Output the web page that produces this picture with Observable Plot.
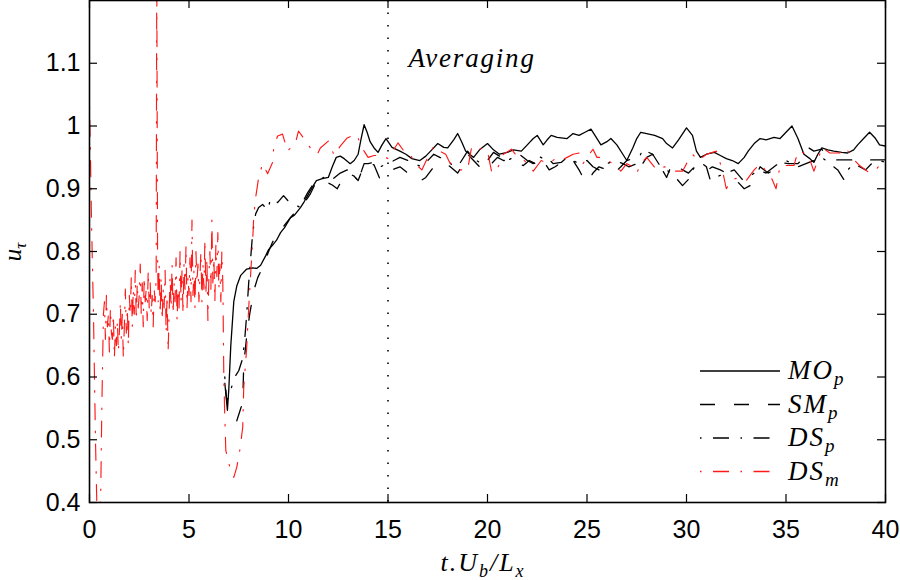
<!DOCTYPE html>
<html>
<head>
<meta charset="utf-8">
<script src="https://cdn.jsdelivr.net/npm/d3@7"></script>
<script src="https://cdn.jsdelivr.net/npm/@observablehq/plot@0.6"></script>
<style>
  html, body { margin: 0; padding: 0; background: #fff; }
  #chart svg { display: block; }
</style>
</head>
<body>
<div id="chart"></div>
<script>
// ---- tick values ----
const xTicks = [0, 5, 10, 15, 20, 25, 30, 35, 40];
const yTicks = [0.4, 0.5, 0.6, 0.7, 0.8, 0.9, 1.0, 1.1];
const averagingStart = 15;

// ---- series: [t.U_b/L_x, u_tau] ----
const MOp = [
  [6.8,0.59],[6.93,0.547],[7.0,0.58],[7.1,0.65],[7.25,0.72],[7.4,0.745],[7.6,0.762],[7.9,0.772],
  [8.2,0.774],[8.4,0.773],[8.6,0.778],[8.85,0.793],[9.0,0.803],[9.25,0.812],[9.4,0.818],[9.6,0.83],
  [9.8,0.838],[10.1,0.854],[10.3,0.858],[10.6,0.87],[10.8,0.88],[11.1,0.897],[11.4,0.913],[11.7,0.916],
  [12.0,0.918],[12.2,0.935],[12.4,0.95],[12.6,0.952],[12.8,0.948],[13.1,0.94],[13.3,0.945],[13.5,0.955],
  [13.65,0.98],[13.8,1.002],[13.95,0.99],[14.1,0.975],[14.3,0.965],[14.5,0.958],[14.7,0.97],[14.9,0.98],
  [15.2,0.966],[15.6,0.96],[15.9,0.955],[16.2,0.948],[16.6,0.945],[16.9,0.952],[17.2,0.962],[17.5,0.972],
  [17.8,0.966],[18.0,0.965],[18.3,0.978],[18.5,0.988],[18.7,0.975],[18.9,0.96],[19.1,0.955],[19.3,0.95],
  [19.6,0.962],[20.0,0.972],[20.3,0.962],[20.6,0.955],[21.0,0.958],[21.3,0.962],[21.7,0.96],[22.0,0.97],
  [22.3,0.98],[22.5,0.985],[22.8,0.97],[23.0,0.978],[23.2,0.985],[23.5,0.982],[24.0,0.98],[24.3,0.988],
  [24.6,0.985],[24.9,0.99],[25.2,0.995],[25.4,0.985],[25.7,0.97],[26.0,0.975],[26.2,0.98],[26.5,0.97],
  [26.8,0.955],[27.0,0.945],[27.3,0.965],[27.5,0.98],[27.7,0.99],[28.0,0.988],[28.4,0.985],[28.8,0.98],
  [29.0,0.972],[29.3,0.965],[29.6,0.978],[30.0,0.997],[30.3,0.985],[30.5,0.96],[30.7,0.95],[31.0,0.955],
  [31.4,0.958],[31.7,0.953],[32.0,0.948],[32.3,0.945],[32.6,0.94],[32.9,0.95],[33.1,0.96],[33.4,0.972],
  [33.7,0.98],[34.0,0.978],[34.4,0.982],[34.7,0.98],[35.0,0.99],[35.3,1.0],[35.6,0.98],[35.9,0.955],
  [36.2,0.948],[36.4,0.942],[36.6,0.955],[36.8,0.965],[37.1,0.962],[37.4,0.96],[37.8,0.958],[38.1,0.957],
  [38.4,0.962],[38.6,0.97],[38.9,0.98],[39.2,0.99],[39.5,0.98],[39.7,0.97],[40,0.968]
];

const SMp = [
  [7.4,0.53],[7.55,0.545],[7.7,0.56],[7.75,0.62],[7.9,0.665],[8.05,0.7],[8.25,0.737],[8.45,0.758],
  [8.7,0.775],[9.0,0.8],[9.2,0.815],[9.45,0.83],[9.7,0.838],[10.0,0.85],[10.2,0.858],[10.45,0.866],
  [10.7,0.878],[10.95,0.893],[11.25,0.908],[11.6,0.912],[11.95,0.91],[12.2,0.906],[12.45,0.9],[12.7,0.915],
  [13.0,0.925],[13.3,0.92],[13.5,0.913],[13.8,0.938],[14.1,0.94],[14.3,0.938],[14.6,0.915],[14.9,0.92],
  [15.2,0.93],[15.6,0.935],[16.0,0.925],[16.3,0.918],[16.6,0.912],[16.9,0.918],[17.3,0.935],[17.7,0.94],
  [18.1,0.936],[18.5,0.925],[18.8,0.94],[19.0,0.955],[19.3,0.945],[19.6,0.935],[19.9,0.928],[20.2,0.94],
  [20.5,0.95],[20.8,0.945],[21.2,0.945],[21.5,0.94],[21.8,0.937],[22.1,0.945],[22.4,0.94],[22.7,0.95],
  [23.1,0.93],[23.4,0.935],[23.7,0.942],[24.0,0.948],[24.3,0.945],[24.6,0.93],[24.8,0.918],[25.0,0.91],
  [25.3,0.925],[25.6,0.935],[26.0,0.93],[26.3,0.923],[26.7,0.935],[27.0,0.945],[27.3,0.948],[27.7,0.935],
  [28.0,0.95],[28.3,0.955],[28.7,0.935],[29.0,0.918],[29.3,0.942],[29.8,0.93],[30.1,0.925],[30.4,0.935],
  [30.7,0.93],[31.0,0.928],[31.3,0.935],[31.7,0.93],[32.0,0.925],[32.3,0.915],[32.6,0.91],[32.9,0.9],
  [33.2,0.905],[33.5,0.92],[33.7,0.935],[34.1,0.925],[34.4,0.93],[34.7,0.942],[35.1,0.94],[35.6,0.94],
  [35.9,0.95],[36.1,0.966],[36.4,0.96],[36.8,0.963],[37.1,0.948],[37.3,0.946],[38.0,0.946],[39.0,0.946],
  [40,0.946]
];

const DSp = [
  [6.8,0.6],[6.9,0.56],[7.0,0.573],[7.1,0.58],[7.3,0.6],[7.5,0.61],[7.7,0.63],[7.8,0.66],[7.9,0.7],
  [8.0,0.75],[8.1,0.79],[8.2,0.83],[8.35,0.86],[8.5,0.87],[8.7,0.875],[8.95,0.866],[9.1,0.884],[9.3,0.882],
  [9.45,0.878],[9.75,0.889],[10.0,0.88],[10.25,0.876],[10.6,0.87],[10.85,0.88],[11.1,0.892],[11.35,0.908],
  [11.6,0.916],[11.95,0.92],[12.2,0.915],[12.6,0.925],[12.95,0.93],[13.3,0.92],[13.5,0.913],[13.8,0.94],
  [14.0,0.94],[14.3,0.942],[14.6,0.935],[15.0,0.94],[15.3,0.945],[15.6,0.95],[16.0,0.945],[16.3,0.94],
  [16.7,0.935],[17.0,0.945],[17.3,0.955],[17.6,0.95],[18.0,0.945],[18.3,0.935],[18.6,0.94],[19.0,0.96],
  [19.3,0.948],[19.7,0.94],[20.0,0.945],[20.3,0.958],[20.6,0.952],[21.0,0.945],[21.3,0.95],[21.6,0.955],
  [22.0,0.945],[22.3,0.94],[22.5,0.953],[22.8,0.948],[23.0,0.95],[23.3,0.94],[23.7,0.942],[24.0,0.95],
  [24.3,0.945],[24.6,0.94],[25.0,0.945],[25.3,0.935],[25.6,0.93],[26.0,0.94],[26.4,0.945],[26.8,0.94],
  [27.1,0.935],[27.5,0.94],[27.8,0.963],[28.1,0.958],[28.3,0.955],[28.7,0.935],[29.0,0.93],[29.4,0.92],
  [29.8,0.905],[30.1,0.915],[30.4,0.935],[30.8,0.94],[31.0,0.935],[31.2,0.913],[31.6,0.92],[32.0,0.925],
  [32.4,0.93],[32.8,0.915],[33.2,0.92],[33.6,0.93],[34.0,0.925],[34.4,0.935],[34.7,0.942],[35.0,0.945],
  [35.3,0.94],[35.6,0.935],[36.0,0.94],[36.4,0.945],[36.8,0.95],[37.2,0.94],[37.6,0.93],[37.9,0.915],
  [38.1,0.93],[38.4,0.94],[38.7,0.935],[39.0,0.93],[39.3,0.94],[39.7,0.945],[40,0.942]
];

const DSm = [
  [0,1.03],[0.05,0.95],[0.1,0.85],[0.2,0.7],[0.3,0.5],[0.38,0.38],[0.45,0.37],[0.55,0.38],[0.62,0.55],[0.7,0.7],
  [0.75,0.72],[0.80,0.66],[0.85,0.73],[0.90,0.68],[0.95,0.70],[1.00,0.64],[1.05,0.71],[1.10,0.67],
  [1.15,0.66],[1.20,0.70],[1.25,0.63],[1.30,0.68],[1.35,0.65],[1.40,0.69],[1.45,0.64],[1.50,0.67],
  [1.55,0.72],[1.60,0.66],[1.65,0.70],[1.70,0.63],[1.75,0.68],[1.80,0.74],[1.85,0.67],[1.90,0.71],[1.95,0.65],[2.00,0.73],
  [2.05,0.70],[2.10,0.76],[2.15,0.68],[2.20,0.74],[2.25,0.70],[2.30,0.77],[2.35,0.69],[2.40,0.75],[2.45,0.71],[2.50,0.73],
  [2.55,0.78],[2.60,0.70],[2.65,0.75],[2.70,0.68],[2.75,0.76],[2.80,0.72],[2.85,0.74],[2.90,0.69],[2.95,0.77],[3.00,0.71],
  [3.05,0.75],[3.10,0.70],[3.15,0.73],[3.20,0.68],[3.25,0.74],[3.30,0.72],
  [3.35,0.76],[3.38,1.25],[3.42,0.80],[3.45,0.72],
  [3.50,0.78],[3.55,0.70],[3.60,0.76],[3.65,0.69],[3.70,0.74],[3.75,0.71],[3.80,0.77],[3.85,0.67],[3.90,0.73],[3.95,0.64],[4.00,0.70],
  [4.05,0.76],[4.10,0.71],[4.15,0.78],[4.20,0.70],[4.25,0.75],[4.30,0.72],[4.35,0.79],[4.40,0.69],[4.45,0.74],[4.50,0.71],
  [4.55,0.80],[4.60,0.72],[4.65,0.77],[4.70,0.70],[4.75,0.78],[4.80,0.74],[4.85,0.81],[4.90,0.71],[4.95,0.76],[5.00,0.73],
  [5.05,0.79],[5.10,0.72],[5.15,0.85],[5.20,0.73],[5.25,0.77],[5.30,0.71],[5.35,0.80],[5.40,0.75],[5.45,0.78],[5.50,0.72],
  [5.55,0.76],[5.60,0.80],[5.65,0.72],[5.70,0.78],[5.75,0.74],[5.80,0.82],[5.85,0.73],[5.90,0.79],[5.95,0.69],[6.00,0.76],
  [6.05,0.80],[6.10,0.74],[6.15,0.85],[6.20,0.75],[6.25,0.79],[6.30,0.72],[6.35,0.81],[6.40,0.76],[6.45,0.83],[6.50,0.74],
  [6.55,0.78],[6.60,0.72],[6.65,0.80],[6.70,0.75],
  [6.75,0.6],[6.8,0.535],[6.85,0.483],[7.0,0.462],[7.25,0.44],[7.4,0.456],[7.55,0.483],[7.7,0.52],[7.75,0.583],
  [7.9,0.647],[8.0,0.71],[8.1,0.765],[8.2,0.817],[8.25,0.854],[8.35,0.886],[8.5,0.918],[8.7,0.94],[8.95,0.924],
  [9.2,0.942],[9.25,0.963],[9.45,0.984],[9.7,0.987],[9.95,0.96],[10.35,0.973],[10.5,0.992],[10.75,0.981],
  [11.1,0.965],[11.45,0.955],[11.6,0.965],[12.0,0.976],[12.3,0.953],[12.6,0.968],[12.95,0.981],[13.4,0.987],
  [13.8,0.96],[14.0,0.95],[14.3,0.953],[14.7,0.953],[15.0,0.948],[15.5,0.973],[15.8,0.96],[16.1,0.957],
  [16.3,0.942],[16.7,0.93],[17.0,0.95],[17.3,0.968],[17.6,0.96],[17.9,0.955],[18.1,0.942],[18.5,0.93],
  [19.0,0.93],[19.2,0.966],[19.5,0.96],[19.7,0.965],[20.0,0.96],[20.2,0.928],[20.4,0.925],[20.8,0.955],
  [21.2,0.963],[21.4,0.955],[21.7,0.95],[22.0,0.94],[22.3,0.928],[22.7,0.945],[23.1,0.94],[23.4,0.948],
  [23.7,0.945],[24.0,0.95],[24.3,0.955],[24.6,0.957],[24.8,0.94],[25.0,0.95],[25.3,0.963],[25.5,0.95],
  [25.8,0.95],[26.2,0.942],[26.5,0.935],[26.7,0.928],[27.0,0.94],[27.3,0.935],[27.5,0.925],[27.7,0.94],
  [28.0,0.95],[28.2,0.942],[28.5,0.93],[28.9,0.935],[29.3,0.928],[29.8,0.928],[30.0,0.94],[30.3,0.955],
  [30.6,0.945],[31.0,0.955],[31.5,0.96],[31.8,0.93],[32.0,0.9],[32.3,0.915],[32.7,0.918],[33.0,0.913],
  [33.4,0.93],[33.7,0.94],[34.0,0.928],[34.3,0.915],[34.5,0.9],[34.7,0.937],[35.0,0.937],[35.4,0.937],
  [35.6,0.96],[36.1,0.955],[36.4,0.928],[36.6,0.945],[36.8,0.966],[37.2,0.957],[37.7,0.957],[38.0,0.966],
  [38.3,0.95],[38.7,0.937],[39.0,0.93],[39.2,0.925],[39.5,0.93],[39.7,0.937],[40,0.945]
];

const seriesNames = ["MO", "SM", "DS", "DS"];
const seriesSubs = ["p", "p", "p", "m"];
const seriesColors = ["#000000", "#000000", "#000000", "#ff1a1a"];
const seriesDash = ["none", "15,19", "1.5,11.5,16,11.5", "1.5,11.5,16,11.5"];
const seriesData = [MOp, SMp, DSp, DSm];

// ---- chart ----
const W = 900, H = 580;
const mL = 89, mR = 15, mT = 0, mB = 78;
const frameW = W - mL - mR, frameH = H - mT - mB;
const tick = 8;

const lineMarks = seriesData.map((data, i) =>
  Plot.line(data, {
    x: d => d[0], y: d => d[1],
    stroke: seriesColors[i],
    strokeWidth: i === 3 ? 1.15 : 1.3,
    strokeDasharray: seriesDash[i] === "none" ? undefined : seriesDash[i],
    clip: true
  })
);

const chart = Plot.plot({
  width: W, height: H,
  marginLeft: mL, marginRight: mR, marginTop: mT, marginBottom: mB,
  x: {domain: [0, 40]},
  y: {domain: [0.4, 1.2]},
  style: {background: "#fff", fontFamily: "'Liberation Sans', Arial, sans-serif", fontSize: "25px", color: "#000"},
  marks: [
    Plot.ruleX([averagingStart], {stroke: "#000", strokeWidth: 1.6, strokeDasharray: "1.5,11"}),
    ...lineMarks,
    // inward ticks on all four sides
    Plot.ruleX(xTicks, {x: d => d, insetTop: frameH - tick, stroke: "#000", strokeWidth: 1.2}),
    Plot.ruleX(xTicks, {x: d => d, insetBottom: frameH - tick, stroke: "#000", strokeWidth: 1.2}),
    Plot.ruleY(yTicks, {y: d => d, insetRight: frameW - tick, stroke: "#000", strokeWidth: 1.2}),
    Plot.ruleY(yTicks, {y: d => d, insetLeft: frameW - tick, stroke: "#000", strokeWidth: 1.2}),
    Plot.frame({stroke: "#000", strokeWidth: 1.6}),
    Plot.axisX(xTicks, {tickSize: 0, tickPadding: 18, label: null, tickFormat: d => String(d), fontSize: 25}),
    Plot.axisY(yTicks, {tickSize: 0, tickPadding: 9, label: null, tickFormat: d => d3.format("~g")(d), fontSize: 25})
  ]
});

document.getElementById("chart").appendChild(chart);

// ---- annotations: math-style labels ----
const svg = d3.select(chart);
const serif = "'Liberation Serif', 'Times New Roman', serif";
const xs = chart.scale("x");

// "Averaging" label just right of the averaging line
svg.append("text")
  .attr("x", xs.apply(averagingStart) + 21).attr("y", 67)
  .attr("text-anchor", "start")
  .attr("font-family", serif).attr("font-style", "italic").attr("font-size", 27)
  .attr("letter-spacing", 1.8)
  .attr("fill", "#000")
  .text("Averaging");

// x-axis label t.U_b/L_x
const xl = svg.append("text")
  .attr("x", mL + frameW / 2 - 4).attr("y", 571)
  .attr("text-anchor", "middle")
  .attr("font-family", serif).attr("font-style", "italic").attr("font-size", 26)
  .attr("letter-spacing", 2)
  .attr("fill", "#000");
xl.append("tspan").text("t.U");
xl.append("tspan").attr("dy", 6).attr("font-size", 18).text("b");
xl.append("tspan").attr("dy", -6).text("/L");
xl.append("tspan").attr("dy", 6).attr("font-size", 18).text("x");

// y-axis label u_tau
const yl = svg.append("text")
  .attr("transform", "translate(21,252) rotate(-90)")
  .attr("text-anchor", "middle")
  .attr("font-family", serif).attr("font-style", "italic").attr("font-size", 25)
  .attr("fill", "#000");
yl.append("tspan").text("u");
yl.append("tspan").attr("dy", 5).attr("font-size", 17).text("τ");

// legend (bottom right, inside frame)
const lg = svg.append("g").attr("text-anchor", "start");
seriesNames.forEach((name, i) => {
  const yy = 371 + i * 33.5;
  lg.append("line")
    .attr("x1", 700).attr("x2", 780).attr("y1", yy).attr("y2", yy)
    .attr("stroke", seriesColors[i]).attr("stroke-width", 1.3)
    .attr("stroke-dasharray", seriesDash[i] === "none" ? null : seriesDash[i]);
  const t = lg.append("text")
    .attr("x", 788).attr("y", yy + 8)
    .attr("text-anchor", "start")
    .attr("font-family", serif).attr("font-style", "italic").attr("font-size", 27)
    .attr("letter-spacing", 2)
    .attr("fill", "#000");
  t.append("tspan").text(name);
  t.append("tspan").attr("dy", 6).attr("font-size", 19).text(seriesSubs[i]);
});
</script>
</body>
</html>
